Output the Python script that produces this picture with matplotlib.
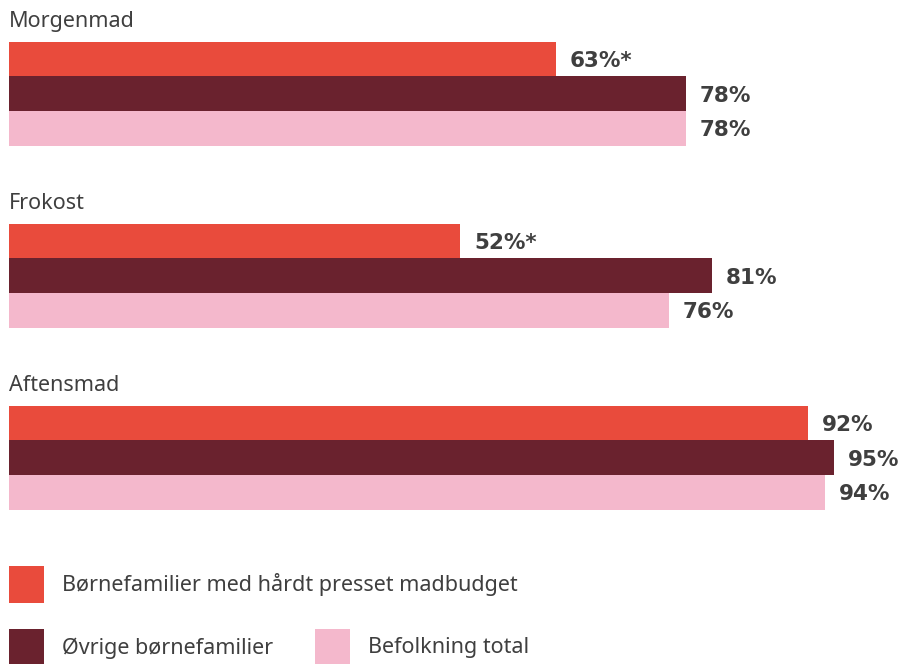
import matplotlib
matplotlib.use("Agg")
import matplotlib.pyplot as plt
from matplotlib.patches import Rectangle

plt.rcParams['font.family'] = ['Noto Sans', 'DejaVu Sans']

categories = ["Morgenmad", "Frokost", "Aftensmad"]
series = ["Børnefamilier med hårdt presset madbudget", "Øvrige børnefamilier", "Befolkning total"]
values = [
    [63, 52, 92],   # Børnefamilier med hårdt presset madbudget
    [78, 81, 95],   # Øvrige børnefamilier
    [78, 76, 94],   # Befolkning total
]
labels = [
    ["63%*", "52%*", "92%"],
    ["78%", "81%", "95%"],
    ["78%", "76%", "94%"],
]
colors = ["#E94B3C", "#6A222E", "#F4B8CC"]
text_color = "#3F3F3F"

W, H = 898, 664
fig = plt.figure(figsize=(W / 100, H / 100), dpi=100)
ax = fig.add_axes([0, 0, 1, 1])
scale = 8.68  # pixels per percentage point
x0 = 9
ax.set_xlim(-x0 / scale, (W - x0) / scale)
ax.set_ylim(H, 0)
ax.axis("off")

bar_h = 34.6
group_top = 42
group_step = 182

for g, cat in enumerate(categories):
    top = group_top + g * group_step
    ax.text(0, top - 20.5, cat, fontsize=15.5, color=text_color, va="center", ha="left")
    for s in range(len(series)):
        yc = top + bar_h * s + bar_h / 2
        v = values[s][g]
        ax.barh(yc, v, height=bar_h + 0.4, left=0, color=colors[s], linewidth=0)
        ax.text(v + 14 / scale, yc + 2, labels[s][g], fontsize=15.5, fontweight="bold",
                family="DejaVu Sans", color=text_color, va="center", ha="left")

# Legend
def legend_item(px, py, color, label):
    fig.patches.append(Rectangle((px / W, 1 - (py + 18) / H), 35 / W, 37 / H,
                                 transform=fig.transFigure, color=color, linewidth=0))
    fig.text((px + 53) / W, 1 - py / H, label, fontsize=15.5, color=text_color,
             va="center", ha="left")

legend_item(9, 585, colors[0], series[0])
legend_item(9, 648, colors[1], series[1])
legend_item(315, 648, colors[2], series[2])

fig.savefig("out.png", dpi=100)
